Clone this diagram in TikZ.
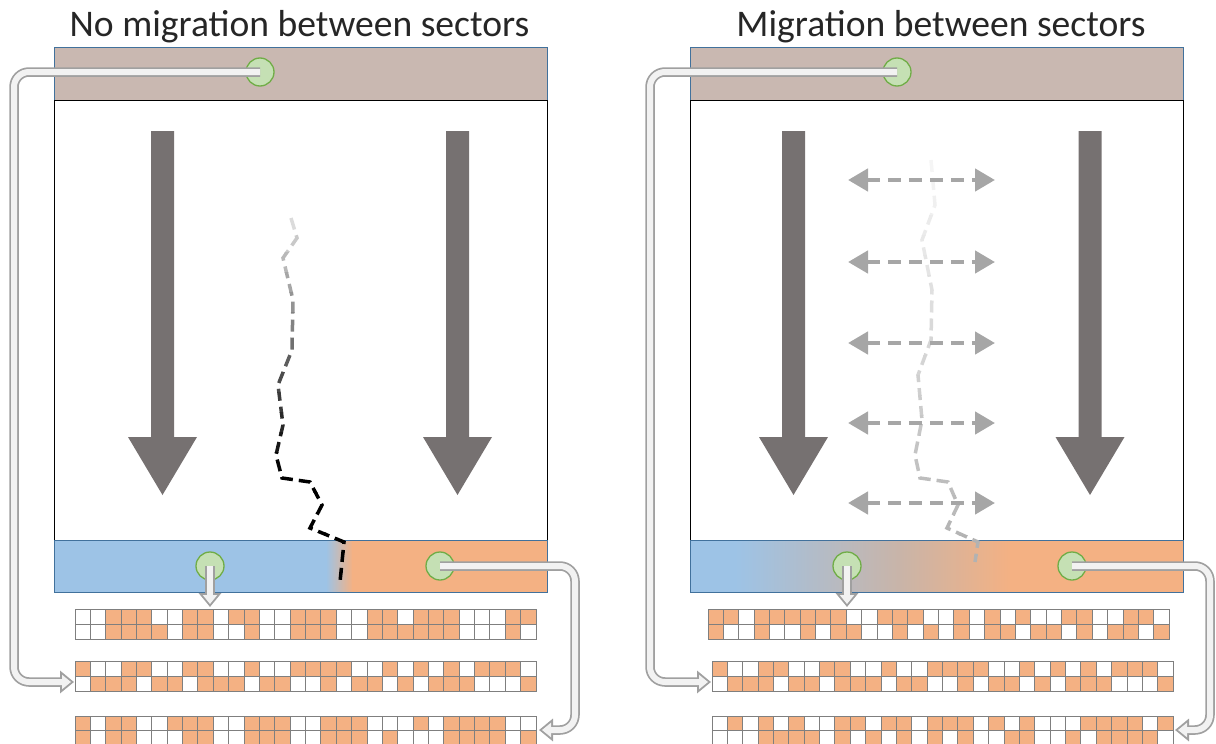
\documentclass[tikz,border=0pt]{standalone}
\usepackage{fontspec}
\setmainfont{Carlito}
\usetikzlibrary{arrows.meta,calc}

\definecolor{barbrown}{HTML}{C9B8B1}
\definecolor{barblue}{HTML}{9DC3E6}
\definecolor{barorange}{HTML}{F4B183}
\definecolor{bartan}{HTML}{C9B4A8}
\definecolor{barline}{HTML}{41719C}
\definecolor{dotfill}{HTML}{C5E0B4}
\definecolor{dotedge}{HTML}{70AD47}
\definecolor{bigarrowgray}{HTML}{767171}
\definecolor{dashgray}{HTML}{A6A6A6}
\definecolor{pipegray}{HTML}{A0A0A0}
\definecolor{pipefill}{HTML}{F2F2F2}
\definecolor{cellon}{HTML}{F4B183}
\definecolor{cellline}{HTML}{7F7F7F}
\definecolor{titleink}{HTML}{262626}

% one row of the allele grid: x0, y0, 30 flags (1 = orange cell)
\newcommand\cellrow[3]{%
  \foreach \v [count=\i from 0] in {#3}{%
    \ifnum\v=1 \def\cc{cellon}\else\def\cc{white}\fi
    \path[draw=cellline, fill=\cc, line width=1pt]
      ({#1+\i*15.37},{#2}) rectangle ++(15.37,14.8);
  }}

% large downward arrow centred at x
\newcommand\downflow[1]{%
  \fill[bigarrowgray] ({#1-11.5},131) -- ({#1+11.5},131) -- ({#1+11.5},437)
    -- ({#1+34.5},437) -- (#1,495) -- ({#1-34.5},437) -- ({#1-11.5},437) -- cycle;}

\begin{document}
\begin{tikzpicture}[x=1pt,y=-1pt,
  bar/.style={draw=barline, line width=0.8pt, minimum width=493pt, inner sep=0pt, anchor=north west},
  field/.style={draw=black, line width=0.8pt, minimum width=493pt, minimum height=440pt, inner sep=0pt, anchor=north west},
  dot/.style={circle, fill=dotfill, draw=dotedge, line width=1.3pt, minimum size=28pt, inner sep=0pt},
  title/.style={font=\fontsize{37.6}{40}\selectfont, text=titleink, anchor=base, inner sep=0pt},
  pipeout/.style={draw=pipegray, line width=9.5pt, rounded corners=15pt, -{Triangle[length=14pt,width=22pt]}},
  pipein/.style={draw=pipefill, line width=6pt, rounded corners=15pt, shorten >=3pt, -{Triangle[length=9pt,width=14pt]}},
  swap/.style={draw=dashgray, line width=4.5pt, dash pattern=on 13pt off 8pt,
    {Triangle[length=20pt,width=22pt]}-{Triangle[length=20pt,width=22pt]}},
  zig/.style={line width=3.5pt, dash pattern=on 12pt off 6pt}
]
\useasboundingbox (0,0) rectangle (1216,744);

% ---------------- left panel: no migration ----------------
\node[title] (ltitle) at (299.5,36) {No migration between sectors};
\node[bar, fill=barbrown, minimum height=53pt] (ltop) at (54,47) {};
\node[field] (lfield) at (54,100) {};
% lower bar: blue sector, sharp blend, orange sector
\fill[barblue] (54,540) rectangle (327,592);
\shade[left color=barblue, right color=barorange] (326,540) rectangle (353,592);
\fill[barorange] (352,540) rectangle (547,592);
\node[bar, minimum height=52pt] (lbot) at (54,540) {};

\downflow{162.5}
\downflow{457.5}

% boundary between the sectors, fading out upwards
\foreach \k in {0,...,18}{
  \pgfmathtruncatemacro\p{min(100,14+\k*7)}
  \begin{scope}
    \clip (200,{212+\k*20}) rectangle (420,{232+\k*20});
    \draw[zig, black!\p] (291,218) -- (297,238) -- (283,258) -- (293,300) -- (292,350)
      -- (278,385) -- (283,425) -- (276,455) -- (282,478) -- (310,482) -- (322,505)
      -- (310,528) -- (344,542) -- (340,582);
  \end{scope}
}

\node[dot] (ltopdot) at (260,72) {};
\node[dot] (lbluedot) at (210,566) {};
\node[dot] (lorangedot) at (440,566) {};

% allele grid
\cellrow{75}{609.5}{0,0,1,1,1,0,0,1,1,0,1,1,0,0,1,1,1,0,0,1,1,0,1,1,1,0,0,0,1,1}
\cellrow{75}{624.3}{0,0,1,1,1,1,0,1,1,0,0,1,0,0,1,1,1,0,0,1,1,1,1,1,1,0,0,0,1,0}
\cellrow{75}{661.5}{1,0,0,1,1,0,0,1,1,0,0,1,0,0,1,1,1,1,0,0,1,0,1,0,1,0,1,1,1,0}
\cellrow{75}{676.3}{0,1,1,1,0,1,1,0,1,1,1,0,1,1,0,0,1,0,1,1,0,1,0,1,1,1,0,0,0,1}
\cellrow{75}{716}{1,0,1,1,0,0,1,1,1,0,0,1,1,1,0,0,1,1,1,0,0,0,1,0,1,1,1,1,0,0}
\cellrow{75}{730.8}{1,0,1,1,0,0,0,1,1,0,0,1,1,1,0,0,1,1,1,0,1,0,0,0,1,1,1,1,0,1}

\coordinate (lrow1) at (210,607);
\coordinate (lrow2) at (74,682);
\coordinate (lrow3) at (539,730);

\draw[pipeout] (ltopdot.center) -| ([xshift=-60pt]lrow2) -- (lrow2);
\draw[pipein]  (ltopdot.center) -| ([xshift=-60pt]lrow2) -- (lrow2);
\draw[pipeout] (lbluedot.center) -- (lrow1);
\draw[pipein]  (lbluedot.center) -- (lrow1);
\draw[pipeout] (lorangedot.center) -| ([xshift=36pt]lrow3) -- (lrow3);
\draw[pipein]  (lorangedot.center) -| ([xshift=36pt]lrow3) -- (lrow3);

% ---------------- right panel: migration ----------------
\node[title] (rtitle) at (941,36) {Migration between sectors};
\node[bar, fill=barbrown, minimum height=53pt] (rtop) at (690,47) {};
\node[field] (rfield) at (690,100) {};
% lower bar: wide blend from blue to orange
\fill[barblue] (690,540) rectangle (736,592);
\shade[left color=barblue, right color=bartan] (735,540) rectangle (901,592);
\shade[left color=bartan, right color=barorange] (900,540) rectangle (1011,592);
\fill[barorange] (1010,540) rectangle (1183,592);
\node[bar, minimum height=52pt] (rbot) at (690,540) {};

\downflow{793.5}
\downflow{1090}

% faint former boundary
\foreach \k in {0,...,20}{
  \pgfmathtruncatemacro\p{min(30,4+\k*1.4)}
  \begin{scope}
    \clip (850,{155+\k*20}) rectangle (1050,{175+\k*20});
    \draw[zig, black!\p] (931,160) -- (935,205) -- (922,240) -- (932,290) -- (931,340)
      -- (918,375) -- (922,420) -- (915,455) -- (920,478) -- (948,482) -- (958,505)
      -- (947,528) -- (978,542) -- (975,562);
  \end{scope}
}

% exchange of individuals between the sectors
\foreach \yy in {180,262,343,423,503}{
  \draw[swap] (848,\yy) -- (995,\yy);
}

\node[dot] (rtopdot) at (897,72) {};
\node[dot] (rbluedot) at (847,566) {};
\node[dot] (rorangedot) at (1072,566) {};

\cellrow{708}{609.5}{1,1,0,1,1,1,1,1,1,0,0,1,1,1,0,0,1,0,1,0,1,0,0,1,1,0,0,1,1,0}
\cellrow{708}{624.3}{1,0,0,1,0,0,1,0,1,1,0,0,1,0,1,0,1,0,1,1,0,1,1,0,1,0,1,1,0,1}
\cellrow{712}{661.5}{1,0,0,1,1,0,0,1,1,0,0,1,0,0,1,1,1,1,0,0,1,0,1,0,1,0,1,1,1,0}
\cellrow{712}{676.3}{0,1,1,1,0,1,1,0,1,1,1,0,1,1,0,0,1,0,1,1,0,1,0,1,1,1,0,0,0,1}
\cellrow{712}{716}{0,1,0,1,0,1,0,0,1,1,0,1,1,0,1,1,1,0,1,0,1,0,0,0,1,1,1,1,0,1}
\cellrow{712}{730.8}{0,0,0,1,1,1,1,0,1,0,1,0,1,0,1,0,1,0,0,1,1,0,0,1,0,1,1,1,1,0}

\coordinate (rrow1) at (847,607);
\coordinate (rrow2) at (711,682);
\coordinate (rrow3) at (1175,730);

\draw[pipeout] (rtopdot.center) -| ([xshift=-61pt]rrow2) -- (rrow2);
\draw[pipein]  (rtopdot.center) -| ([xshift=-61pt]rrow2) -- (rrow2);
\draw[pipeout] (rbluedot.center) -- (rrow1);
\draw[pipein]  (rbluedot.center) -- (rrow1);
\draw[pipeout] (rorangedot.center) -| ([xshift=35pt]rrow3) -- (rrow3);
\draw[pipein]  (rorangedot.center) -| ([xshift=35pt]rrow3) -- (rrow3);
\end{tikzpicture}
\end{document}
